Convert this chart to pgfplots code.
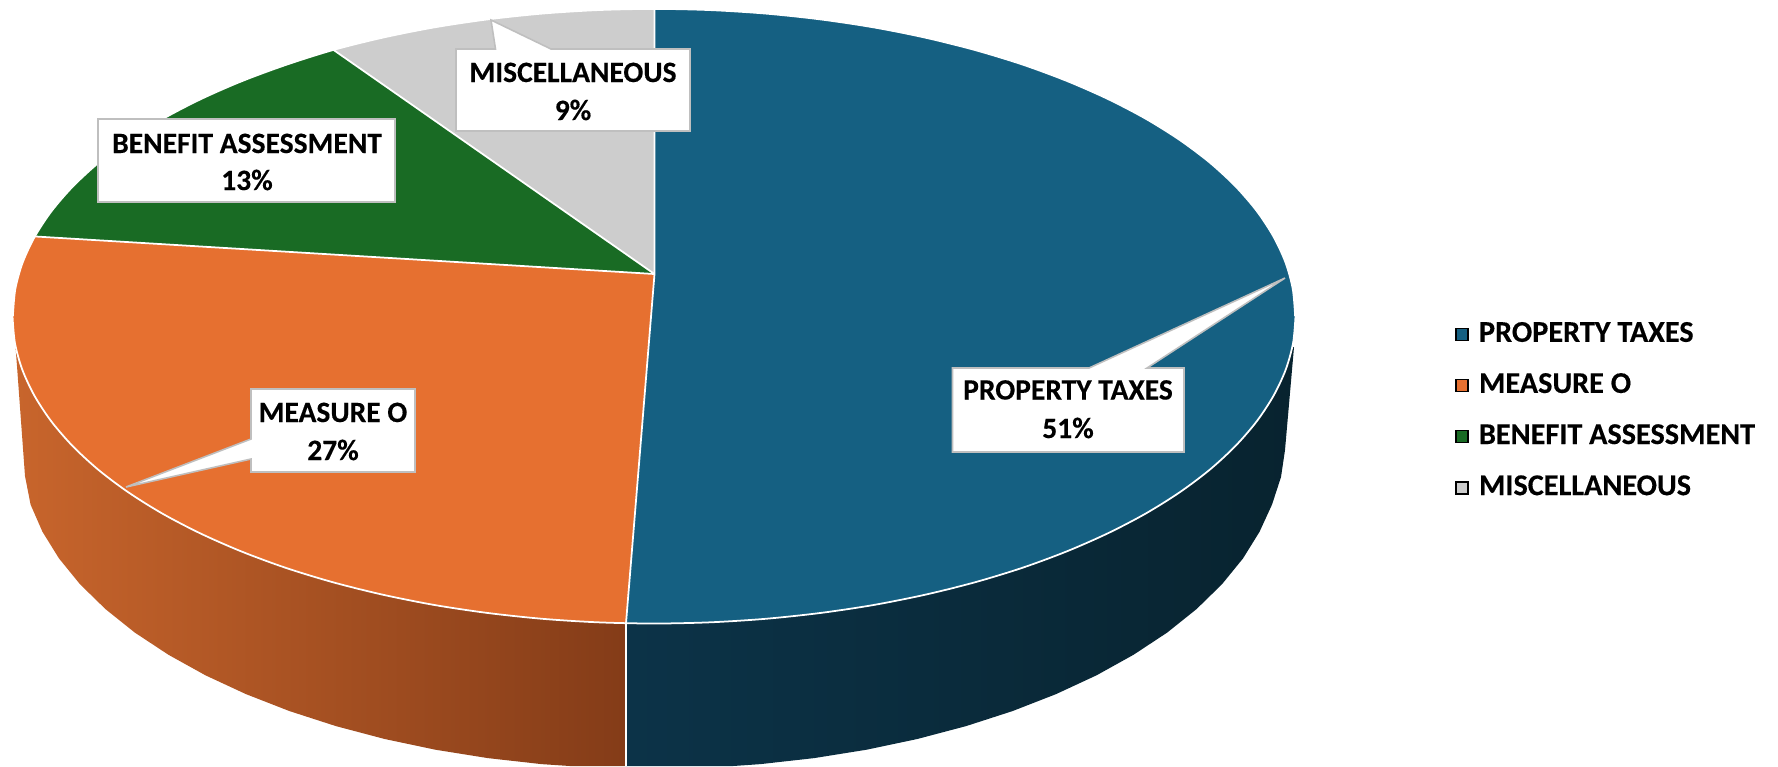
\documentclass[border=0pt]{standalone}
\usepackage{fontspec}
\setmainfont{Carlito}
\usepackage{pgfplots}
\pgfplotsset{compat=1.18}
\definecolor{cblue}{HTML}{156082}
\definecolor{corange}{HTML}{E67030}
\definecolor{cgreen}{HTML}{196B24}
\definecolor{cgray}{HTML}{CDCDCD}
\definecolor{wallOL}{HTML}{C8652C}
\definecolor{wallOR}{HTML}{843C18}
\definecolor{wallBL}{HTML}{0C3348}
\definecolor{wallBR}{HTML}{08232F}
\definecolor{boxline}{HTML}{BFBFBF}
\newcommand{\lab}{\fontsize{8.4}{10}\selectfont\bfseries\addfontfeature{FakeBold=0.3}}
\newcommand{\leglab}{\fontsize{8.6}{10}\selectfont\bfseries\addfontfeature{FakeBold=0.3}}
\begin{document}
\begin{tikzpicture}
\begin{axis}[
  scale only axis, width=177.8mm, height=76.6mm,
  xmin=0, xmax=1778, ymin=0, ymax=766, y dir=reverse,
  hide axis,
  legend cell align=left,
  legend image code/.code={\draw[#1] plot coordinates {(0.6mm,0mm)};},
  legend style={at={(axis cs:1456,322)},anchor=north west,draw=none,fill=none,
    font=\leglab, inner sep=0pt, outer sep=0pt, row sep=2.6mm,
    nodes={inner sep=0pt,outer sep=0pt},
    /tikz/every odd column/.append style={column sep=1.1mm}},
]
% legend
\addlegendimage{draw=none,mark=square*,mark size=0.6mm,mark options={draw=none,fill=cblue}}
\addlegendentry{PROPERTY TAXES}
\addlegendimage{draw=none,mark=square*,mark size=0.6mm,mark options={draw=none,fill=corange}}
\addlegendentry{MEASURE O}
\addlegendimage{draw=none,mark=square*,mark size=0.6mm,mark options={draw=none,fill=cgreen}}
\addlegendentry{BENEFIT ASSESSMENT}
\addlegendimage{draw=none,mark=square*,mark size=0.6mm,mark options={draw=none,fill=cgray}}
\addlegendentry{MISCELLANEOUS}
% frame of the picture
\addplot[draw=none,forget plot] coordinates {(0,0)(1778,766)};
% side walls
\addplot[draw=none,left color=wallOL,right color=wallOR,forget plot] coordinates {
(15,340)(17,366)(25,476)(30.6,504.6)(42.5,531.8)(59,558.4)(80,584.2)(105.4,609)(134.9,632.6)(168.4,654.7)(205.5,675.3)(246,694.1)(289.6,711.1)(336,726.1)(384.8,739)(435.5,749.7)(488,758.1)(541.6,764.1)(570,766)(626,766)(626,500)(300,400)} --cycle;
\addplot[draw=none,left color=wallBL,right color=wallBR,forget plot] coordinates {
(626,766)(733,766)(760.4,764.1)(814,758.1)(866.5,749.7)(917.2,739)(966,726.1)(1012.4,711.1)(1056,694.1)(1096.5,675.3)(1133.6,654.7)(1167.1,632.6)(1196.6,609)(1222,584.2)(1243,558.4)(1259.5,531.8)(1272,504.6)(1281,477)(1285,450)(1294,347)(1000,400)(626,500)} --cycle;
\addplot[white,line width=0.5pt,forget plot] coordinates {(626,623)(626,766)};
% top slices
\addplot[draw=none,fill=cblue,forget plot] coordinates {
(654.5,274)(654.5,8.5)(709.9,9.7)(765.4,13.2)(820,19)(873.4,27)(925.1,37.3)(974.8,49.7)(1022,64.1)(1066.4,80.5)(1107.6,98.6)(1145.4,118.3)(1179.5,139.6)(1209.6,162.2)(1235.4,186)(1256.8,210.8)(1273.6,236.4)(1285.8,262.6)(1293.1,289.2)(1295.5,316)(1293.1,342.8)(1285.8,369.4)(1273.6,395.6)(1256.8,421.2)(1235.4,446)(1209.6,469.8)(1179.5,492.4)(1145.4,513.7)(1107.6,533.4)(1066.4,551.5)(1022,567.9)(974.8,582.3)(925.1,594.7)(873.4,605)(820,613)(765.4,618.8)(709.9,622.3)(654,623.5)(626,623.2)} --cycle;
\addplot[draw=none,fill=corange,forget plot] coordinates {
(654.5,274)(626,623.2)(598.1,622.3)(542.6,618.8)(488,613)(434.6,605)(382.9,594.7)(333.2,582.3)(286,567.9)(241.6,551.5)(200.4,533.4)(162.6,513.7)(128.5,492.4)(98.4,469.8)(72.6,446)(51.2,421.2)(34.4,395.6)(22.2,369.4)(14.9,342.8)(12.5,316)(14.9,289.2)(22.2,262.6)(34.4,236.4)} --cycle;
\addplot[draw=none,fill=cgreen,forget plot] coordinates {
(654.5,274)(34.4,236.4)(51.2,210.8)(72.6,186)(98.4,162.2)(128.5,139.6)(162.6,118.3)(200.4,98.6)(241.6,80.5)(286,64.1)(333.2,49.7)} --cycle;
\addplot[draw=none,fill=cgray,forget plot] coordinates {
(654.5,274)(333.2,49.7)(382.9,37.3)(434.6,27)(488,19)(542.6,13.2)(598.1,9.7)(654.5,8.5)} --cycle;
% white rim and radial borders
\addplot[white,line width=0.5pt,smooth,forget plot] coordinates {
(1295.5,316)(1293.1,342.8)(1285.8,369.4)(1273.6,395.6)(1256.8,421.2)(1235.4,446)(1209.6,469.8)(1179.5,492.4)(1145.4,513.7)(1107.6,533.4)(1066.4,551.5)(1022,567.9)(974.8,582.3)(925.1,594.7)(873.4,605)(820,613)(765.4,618.8)(709.9,622.3)(654,623.5)(598.1,622.3)(542.6,618.8)(488,613)(434.6,605)(382.9,594.7)(333.2,582.3)(286,567.9)(241.6,551.5)(200.4,533.4)(162.6,513.7)(128.5,492.4)(98.4,469.8)(72.6,446)(51.2,421.2)(34.4,395.6)(22.2,369.4)(14.9,342.8)(12.5,316)};
\addplot[white,line width=1pt,smooth,forget plot] coordinates {
(12,316)(14.4,289.2)(21.7,262.6)(33.9,236.4)(50.7,210.8)(72.1,186)(97.9,162.2)(128,139.6)(162.1,118.3)(199.9,98.6)(241.1,80.5)(285.5,64.1)(332.7,49.2)(382.4,36.8)(434.1,26.5)(487.5,18.5)(542.1,12.7)(597.6,9.2)(654,8)(710.4,9.2)(765.9,12.7)(820.5,18.5)(873.9,26.5)(925.6,36.8)(975.3,49.2)(1022.5,63.6)(1066.9,80)(1108.1,98.1)(1145.9,117.8)(1180,139.1)(1210.1,161.7)(1235.9,185.5)(1257.3,210.3)(1274.1,235.9)(1286.3,262.1)(1293.6,288.7)(1296,316)};
\addplot[white,line width=0.5pt,forget plot] coordinates {(654.5,8.5)(654.5,274)(626,623.2)};
\addplot[white,line width=0.5pt,forget plot] coordinates {(34.4,236.4)(654.5,274)};
\addplot[white,line width=0.5pt,forget plot] coordinates {(333.2,49.7)(654.5,274)};
% callout boxes
\addplot[draw=boxline,line width=0.45pt,fill=white,forget plot] coordinates {
(456,49)(495.5,49)(491,20)(551,49)(690,49)(690,131)(456,131)} --cycle;
\addplot[draw=boxline,line width=0.45pt,fill=white,forget plot] coordinates {
(98,119)(395,119)(395,202)(98,202)} --cycle;
\addplot[draw=boxline,line width=0.45pt,fill=white,forget plot] coordinates {
(251,389)(415,389)(415,472)(251,472)(251,459)(126,487)(251,439)} --cycle;
\addplot[draw=boxline,line width=0.45pt,fill=white,forget plot] coordinates {
(952.5,368)(1089,368)(1285,278)(1147,368)(1184,368)(1184,452)(952.5,452)} --cycle;
\node[font=\lab,anchor=base] at (axis cs:573,82) {MISCELLANEOUS};
\node[font=\lab,anchor=base] at (axis cs:573,120) {9\%};
\node[font=\lab,anchor=base] at (axis cs:247,153) {BENEFIT ASSESSMENT};
\node[font=\lab,anchor=base] at (axis cs:247,190) {13\%};
\node[font=\lab,anchor=base] at (axis cs:333,422) {MEASURE O};
\node[font=\lab,anchor=base] at (axis cs:333,460) {27\%};
\node[font=\lab,anchor=base] at (axis cs:1068,399.5) {PROPERTY TAXES};
\node[font=\lab,anchor=base] at (axis cs:1068,438) {51\%};
\end{axis}
\end{tikzpicture}
\end{document}
